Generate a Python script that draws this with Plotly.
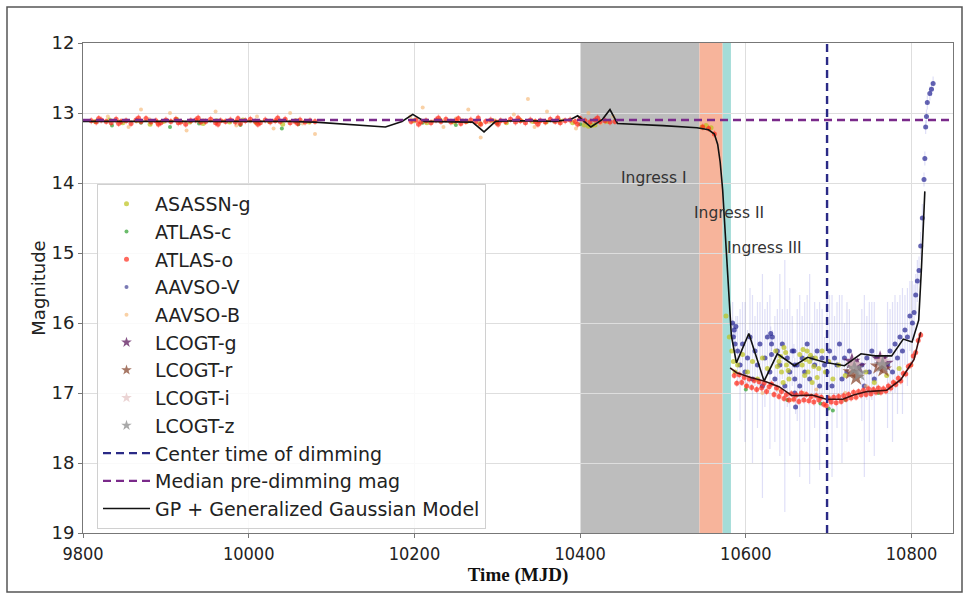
import plotly.graph_objects as go

# ---------------- data ----------------
X_TICKS = [9800, 10000, 10200, 10400, 10600, 10800]
Y_TICKS = [12, 13, 14, 15, 16, 17, 18, 19]

CENTER_TIME = 10698
MEDIAN_MAG = 13.1

INGRESS_NAMES = ["Ingress I", "Ingress II", "Ingress III"]
INGRESS_START = [10400, 10544, 10572]
INGRESS_END = [10544, 10572, 10582]
INGRESS_COLORS = ["#bdbdbd", "#f7b49b", "#a4dcd8"]
INGRESS_LABEL_T = [10489, 10580, 10622]
INGRESS_LABEL_M = [13.93, 14.43, 14.93]

ATLAS_O = [
    (9810, 13.11), (9816, 13.13), (9822, 13.10), (9828, 13.12), (9834, 13.14), (9840, 13.09),
    (9846, 13.12), (9852, 13.11), (9858, 13.15), (9864, 13.10), (9870, 13.12), (9876, 13.08),
    (9882, 13.13), (9888, 13.11), (9894, 13.14), (9900, 13.10), (9906, 13.12), (9912, 13.09),
    (9918, 13.13), (9924, 13.16), (9930, 13.11), (9936, 13.10), (9942, 13.13), (9948, 13.12),
    (9954, 13.09), (9960, 13.14), (9966, 13.11), (9972, 13.12), (9978, 13.10), (9984, 13.13),
    (9990, 13.15), (9996, 13.11), (10002, 13.09), (10008, 13.12), (10014, 13.14), (10020, 13.10),
    (10026, 13.13), (10032, 13.11), (10038, 13.12), (10044, 13.09), (10050, 13.14), (10056, 13.12),
    (10062, 13.10), (10068, 13.13), (10074, 13.11), (10080, 13.12),
    (9819, 13.08), (9843, 13.15), (9867, 13.07), (9891, 13.16), (9915, 13.14), (9939, 13.07),
    (9963, 13.16), (9987, 13.08), (10011, 13.16), (10035, 13.07), (10059, 13.15),
    (10196, 13.12), (10202, 13.10), (10208, 13.13), (10214, 13.11), (10220, 13.14), (10226, 13.10),
    (10232, 13.12), (10238, 13.09), (10244, 13.13), (10250, 13.11), (10256, 13.15), (10262, 13.12),
    (10268, 13.10), (10274, 13.13), (10280, 13.16), (10286, 13.12), (10292, 13.10), (10298, 13.13),
    (10304, 13.11), (10310, 13.12), (10316, 13.09), (10322, 13.13), (10328, 13.11), (10334, 13.14),
    (10340, 13.10), (10346, 13.12), (10352, 13.11), (10358, 13.13), (10364, 13.09), (10370, 13.12),
    (10376, 13.14), (10382, 13.11), (10388, 13.10), (10394, 13.12), (10400, 13.08), (10406, 13.11),
    (10412, 13.13), (10418, 13.10), (10424, 13.12), (10430, 13.11), (10436, 13.13), (10442, 13.12),
    (10205, 13.16), (10229, 13.07), (10253, 13.08), (10277, 13.07), (10301, 13.16), (10325, 13.07),
    (10349, 13.16), (10373, 13.07), (10397, 13.16), (10421, 13.07),
    (10548, 13.20), (10555, 13.22), (10562, 13.30),
    (10586, 16.75), (10589, 16.86), (10592, 16.74), (10595, 16.85), (10598, 16.78), (10601, 16.90),
    (10604, 16.80), (10607, 16.92), (10610, 16.82), (10613, 16.95), (10616, 16.84), (10619, 16.93),
    (10622, 16.86), (10625, 16.98), (10628, 16.91), (10631, 16.87), (10634, 17.02), (10637, 16.93),
    (10640, 17.05), (10643, 16.98), (10646, 17.08), (10649, 17.02), (10652, 17.10), (10655, 17.01),
    (10658, 17.09), (10661, 17.03), (10664, 17.12), (10667, 17.00), (10670, 17.10), (10673, 17.02),
    (10676, 17.11), (10679, 17.05), (10682, 17.13), (10685, 17.04), (10688, 17.10), (10691, 17.06),
    (10694, 17.16), (10697, 17.18), (10700, 17.08), (10703, 17.13), (10706, 17.06), (10709, 17.14),
    (10712, 17.05), (10715, 17.12), (10718, 17.04), (10721, 17.09), (10724, 17.02), (10727, 17.07),
    (10730, 16.99), (10733, 17.06), (10736, 16.98), (10739, 17.03), (10742, 16.96), (10745, 17.02),
    (10748, 16.94), (10751, 17.01), (10754, 16.95), (10757, 16.99), (10760, 16.93), (10763, 16.99),
    (10766, 16.94), (10769, 16.97), (10772, 16.90), (10775, 16.93), (10778, 16.85), (10781, 16.88),
    (10784, 16.79), (10787, 16.83), (10790, 16.72), (10793, 16.73), (10796, 16.62), (10799, 16.60),
    (10802, 16.47), (10805, 16.42), (10808, 16.25), (10811, 16.17),
]

ASASSN_G = [
    (9815, 13.12), (9832, 13.10), (9848, 13.14), (9865, 13.11), (9881, 13.16), (9897, 13.12),
    (9913, 13.09), (9929, 13.13), (9945, 13.15), (9961, 13.11), (9977, 13.13), (9993, 13.10),
    (10009, 13.14), (10025, 13.12), (10041, 13.16), (10057, 13.11), (10073, 13.13),
    (10199, 13.11), (10215, 13.14), (10231, 13.10), (10247, 13.13), (10263, 13.12), (10279, 13.15),
    (10295, 13.11), (10311, 13.14), (10327, 13.10), (10343, 13.12), (10359, 13.13), (10375, 13.11),
    (10391, 13.14), (10405, 13.17), (10410, 13.19), (10414, 13.18), (10418, 13.17), (10432, 13.12),
    (10547, 13.20), (10552, 13.18), (10558, 13.21),
    (10576, 15.90), (10580, 16.20), (10583, 16.40), (10585, 16.55), (10587, 16.70), (10590, 16.60),
    (10596, 16.45), (10602, 16.70), (10608, 16.55), (10614, 16.80), (10620, 16.50), (10626, 16.65),
    (10636, 16.40), (10640, 16.55), (10643, 16.70), (10646, 16.35), (10649, 16.60), (10652, 16.80),
    (10665, 16.45), (10668, 16.60), (10671, 16.75), (10674, 16.40), (10677, 16.55), (10680, 16.85),
    (10684, 16.50), (10688, 16.65), (10692, 16.40), (10696, 16.70), (10700, 16.55), (10705, 16.80),
    (10712, 16.60), (10720, 16.75), (10745, 16.70), (10755, 16.85), (10770, 16.75), (10785, 16.65),
    (10638, 16.62), (10642, 16.48), (10645, 16.85), (10648, 16.42), (10651, 16.68), (10669, 16.38),
    (10672, 16.52), (10675, 16.70), (10678, 16.46), (10682, 16.62), (10686, 16.78),
]

AAVSO_B = [
    (9830, 13.05), (9855, 13.20), (9870, 12.95), (9890, 13.15), (9905, 13.00), (9925, 13.25),
    (9945, 13.10), (9960, 12.98), (9985, 13.18), (10010, 13.05), (10030, 13.22), (10050, 13.00),
    (10065, 13.15), (10080, 13.30), (10195, 13.05), (10210, 12.92), (10235, 13.20), (10250, 13.08),
    (10265, 12.95), (10280, 13.35), (10300, 13.12), (10320, 13.02), (10337, 12.80), (10345, 13.20),
    (10360, 12.98), (10380, 13.10), (10395, 13.22), (10410, 13.00), (10425, 13.15), (10440, 13.05),
    (9840, 13.12), (9880, 13.09), (9920, 13.13), (9968, 13.11), (10002, 13.12), (10044, 13.10),
    (10222, 13.12), (10258, 13.10), (10290, 13.13), (10330, 13.11), (10368, 13.12), (10404, 13.10),
    (10600, 16.90), (10620, 17.00), (10640, 16.95), (10655, 17.10), (10670, 17.00), (10685, 16.95),
    (10700, 17.05), (10720, 17.00), (10745, 16.90), (10780, 16.85), (10800, 16.60),
]

ATLAS_C = [
    (9835, 13.18), (9870, 13.14), (9905, 13.20), (9940, 13.15), (9990, 13.17), (10040, 13.22),
    (10060, 13.16), (10210, 13.14), (10250, 13.17), (10300, 13.15), (10350, 13.12), (10400, 13.16),
    (10600, 16.95), (10650, 17.10), (10690, 17.15), (10700, 17.22), (10705, 17.25), (10720, 17.10),
    (10760, 17.00),
]

AAVSO_V = [  # (time, mag, error)
    (10584, 16.00, 0.3), (10585, 16.20, 0.2), (10586, 16.10, 0.1), (10587, 16.30, 0.2),
    (10588, 16.05, 0.15), (10590, 16.40, 0.5), (10593, 16.60, 0.8), (10596, 16.30, 0.6),
    (10599, 16.70, 1.0), (10602, 16.50, 0.4), (10605, 16.20, 0.7), (10608, 16.80, 1.2),
    (10611, 16.40, 0.5), (10614, 16.60, 0.9), (10617, 16.30, 0.6), (10620, 16.90, 1.6),
    (10623, 16.50, 0.7), (10626, 16.20, 0.5), (10629, 16.70, 1.1), (10630, 16.15, 0.1),
    (10631, 16.30, 0.1), (10631, 16.45, 0.1), (10632, 16.20, 0.1), (10635, 16.80, 0.9),
    (10638, 16.40, 0.6), (10641, 16.60, 1.3), (10644, 16.30, 0.5), (10647, 16.90, 1.8),
    (10650, 16.50, 0.7), (10653, 16.70, 1.2), (10656, 16.40, 0.5), (10658, 16.40, 0.1),
    (10659, 16.60, 0.1), (10659, 16.80, 0.1), (10659, 17.00, 0.1), (10660, 17.20, 0.1),
    (10662, 16.60, 0.8), (10665, 16.90, 1.3), (10668, 16.50, 0.6), (10671, 16.70, 1.0),
    (10674, 16.30, 0.7), (10677, 16.80, 1.5), (10680, 16.50, 0.5), (10683, 16.60, 0.9),
    (10686, 16.40, 0.6), (10689, 16.90, 1.2), (10692, 16.50, 0.7), (10695, 16.60, 0.4),
    (10698, 16.70, 1.1), (10701, 16.40, 0.8), (10704, 16.90, 1.3), (10707, 16.50, 0.6),
    (10710, 16.60, 0.9), (10713, 16.30, 0.7), (10716, 16.80, 1.2), (10719, 16.50, 0.5),
    (10722, 16.70, 1.0), (10725, 16.40, 0.6), (10740, 16.60, 0.8), (10743, 16.90, 1.3),
    (10746, 16.50, 0.6), (10749, 16.70, 1.0), (10752, 16.40, 0.7), (10755, 16.80, 1.1),
    (10758, 16.50, 0.5), (10771, 16.60, 0.9), (10774, 16.40, 0.6), (10777, 16.70, 1.0),
    (10780, 16.30, 0.7), (10783, 16.50, 0.8), (10786, 16.20, 0.6), (10789, 16.40, 0.9),
    (10792, 16.10, 0.5), (10795, 16.20, 0.7), (10798, 15.90, 0.5), (10801, 16.00, 0.6),
    (10803, 15.85, 0.4), (10805, 15.60, 0.3), (10807, 15.40, 0.3), (10809, 15.25, 0.2),
    (10811, 14.90, 0.2), (10813, 14.50, 0.2), (10815, 13.95, 0.1), (10816, 13.65, 0.1),
    (10817, 13.20, 0.1), (10818, 13.05, 0.1), (10819, 12.85, 0.1), (10822, 12.72, 0.1),
    (10824, 12.66, 0.1), (10826, 12.58, 0.1),
]

LCOGT_G = [(10728, 16.55), (10735, 16.62), (10762, 16.52), (10768, 16.58)]
LCOGT_R = [(10727, 16.70), (10733, 16.78), (10760, 16.62), (10766, 16.66)]
LCOGT_I = [(10730, 16.60), (10764, 16.55)]
LCOGT_Z = [(10731, 16.65), (10737, 16.72), (10765, 16.60)]

MODEL_UPPER_T = [9800, 9850, 9900, 9950, 10000, 10050, 10080, 10120, 10165, 10185, 10198, 10212,
                 10240, 10270, 10284, 10298, 10330, 10370, 10389, 10397, 10413, 10427, 10436,
                 10445, 10500, 10541, 10555, 10562, 10566, 10569, 10572, 10575, 10579, 10582.5,
                 10588.6, 10603.6, 10622, 10638, 10658.5, 10674.5, 10695, 10719, 10739, 10756,
                 10776, 10790, 10800.6, 10808.6, 10812, 10816]
MODEL_UPPER_M = [13.12, 13.12, 13.12, 13.11, 13.12, 13.12, 13.13, 13.16, 13.20, 13.12, 13.02, 13.12,
                 13.13, 13.13, 13.27, 13.12, 13.11, 13.12, 13.09, 13.04, 13.20, 13.09, 12.95,
                 13.15, 13.18, 13.21, 13.24, 13.30, 13.45, 13.70, 14.10, 14.67, 15.50, 16.18,
                 16.57, 16.15, 16.83, 16.44, 16.61, 16.49, 16.56, 16.61, 16.44, 16.47,
                 16.47, 16.23, 16.27, 15.96, 15.20, 14.12]
MODEL_LOWER_T = [10581, 10589, 10606, 10622, 10640, 10656, 10680, 10697, 10717, 10730, 10746,
                 10770, 10787, 10803, 10811]
MODEL_LOWER_M = [16.64, 16.71, 16.78, 16.83, 16.91, 17.04, 17.03, 17.09, 17.09, 17.03, 16.98,
                 16.96, 16.81, 16.52, 16.13]

X_RANGE = [9800, 10850]
Y_RANGE = [19, 12]

# ---------------- figure ----------------
fig = go.Figure()


def col(pairs, i):
    return [p[i] for p in pairs]


def add_points(name, pairs, color, size, symbol="circle", opacity=0.65, legend_size=None,
               err=None, err_color=None):
    kw = {}
    if err is not None:
        kw["error_y"] = dict(type="data", array=[err] * len(pairs), visible=True,
                             color=err_color, thickness=1.2, width=0)
    fig.add_trace(go.Scatter(
        x=col(pairs, 0), y=col(pairs, 1), mode="markers", name=name,
        legendgroup=name, showlegend=legend_size is None,
        marker=dict(color=color, size=size, symbol=symbol, opacity=opacity,
                    line=dict(width=0)), **kw,
    ))
    if legend_size is not None:
        fig.add_trace(go.Scatter(
            x=[None], y=[None], mode="markers", name=name, legendgroup=name,
            marker=dict(color=color, size=legend_size, symbol=symbol, opacity=opacity),
        ))


# AAVSO-V with faint error bars (drawn first, beneath the rest)
fig.add_trace(go.Scatter(
    x=col(AAVSO_V, 0), y=col(AAVSO_V, 1), mode="markers", name="AAVSO-V",
    legendgroup="AAVSO-V", showlegend=False,
    marker=dict(color="rgba(35,35,145,0.7)", size=5),
    error_y=dict(type="data", array=col(AAVSO_V, 2), visible=True,
                 color="rgba(110,110,220,0.22)", thickness=1.2, width=0),
))
fig.add_trace(go.Scatter(
    x=[None], y=[None], mode="markers", name="AAVSO-V", legendgroup="AAVSO-V",
    marker=dict(color="rgba(50,50,140,0.65)", size=4),
))

add_points("ATLAS-c", ATLAS_C, "#2ca02c", 4, opacity=0.7)
add_points("AAVSO-B", AAVSO_B, "#f5b26b", 4, opacity=0.6)
add_points("ASASSN-g", ASASSN_G, "#bcc21a", 5, opacity=0.7)
add_points("ATLAS-o", ATLAS_O, "#ff2a1a", 5, opacity=0.7, err=0.05,
           err_color="rgba(255,60,40,0.35)")

add_points("LCOGT-g", LCOGT_G, "#5e1a5e", 13, symbol="star", opacity=0.75, legend_size=8)
add_points("LCOGT-r", LCOGT_R, "#8a4a32", 13, symbol="star", opacity=0.75, legend_size=8)
add_points("LCOGT-i", LCOGT_I, "#e6c9c9", 13, symbol="star", opacity=0.8, legend_size=8)
add_points("LCOGT-z", LCOGT_Z, "#8c8c8c", 13, symbol="star", opacity=0.75, legend_size=8)

# model lines
fig.add_trace(go.Scatter(
    x=MODEL_UPPER_T, y=MODEL_UPPER_M, mode="lines", name="GP + Generalized Gaussian Model",
    legendgroup="model", line=dict(color="#111111", width=1.6),
))
fig.add_trace(go.Scatter(
    x=MODEL_LOWER_T, y=MODEL_LOWER_M, mode="lines", showlegend=False,
    legendgroup="model", line=dict(color="#3a1010", width=1.6),
))

# reference lines
fig.add_trace(go.Scatter(
    x=[CENTER_TIME, CENTER_TIME], y=[Y_RANGE[0], Y_RANGE[1]], mode="lines",
    name="Center time of dimming", legendgroup="center",
    line=dict(color="#2a2a86", width=2.4, dash="8px,5px"),
))
fig.add_trace(go.Scatter(
    x=X_RANGE, y=[MEDIAN_MAG, MEDIAN_MAG], mode="lines",
    name="Median pre-dimming mag", legendgroup="median",
    line=dict(color="#7a2a8a", width=2.4, dash="8px,5px"),
))

# legend ordering
order = ["ASASSN-g", "ATLAS-c", "ATLAS-o", "AAVSO-V", "AAVSO-B", "LCOGT-g", "LCOGT-r",
         "LCOGT-i", "LCOGT-z", "Center time of dimming", "Median pre-dimming mag",
         "GP + Generalized Gaussian Model"]
for tr in fig.data:
    if tr.name in order:
        tr.legendrank = order.index(tr.name) + 1

# shaded ingress regions
for s, e, c in zip(INGRESS_START, INGRESS_END, INGRESS_COLORS):
    fig.add_shape(type="rect", xref="x", yref="paper", x0=s, x1=e, y0=0, y1=1,
                  fillcolor=c, line=dict(width=0), layer="below")

for name, t, m in zip(INGRESS_NAMES, INGRESS_LABEL_T, INGRESS_LABEL_M):
    fig.add_annotation(x=t, y=m, text=name, showarrow=False,
                       font=dict(family="DejaVu Sans", size=15.5, color="#333333"))

# outer frame around the whole picture
L, R, T, B = 83, 953, 43, 533
W, H = 969, 601
fig.add_shape(type="rect", xref="paper", yref="paper",
              x0=(7 - L) / (R - L), x1=(962 - L) / (R - L),
              y0=(B - 592) / (B - T), y1=(B - 7) / (B - T),
              line=dict(color="#555555", width=1.5), fillcolor="rgba(0,0,0,0)", layer="above")

fig.update_layout(
    width=W, height=H,
    margin=dict(l=L, r=W - R, t=T, b=H - B),
    plot_bgcolor="white", paper_bgcolor="white",
    showlegend=True,
    legend=dict(
        x=(97 - L) / (R - L), y=(B - 184) / (B - T), xanchor="left", yanchor="top",
        font=dict(family="DejaVu Sans", size=19, color="#222222"),
        bgcolor="rgba(255,255,255,0.85)", bordercolor="#d0d0d0", borderwidth=1,
        traceorder="normal", itemwidth=47,
    ),
    xaxis=dict(
        range=X_RANGE, tickvals=X_TICKS, ticktext=[str(v) for v in X_TICKS],
        showgrid=True, gridcolor="#dedede", gridwidth=1,
        showline=True, linecolor="#777777", linewidth=1, mirror=True,
        ticks="outside", ticklen=4, tickcolor="#777777",
        tickfont=dict(family="DejaVu Sans Condensed", size=18, color="#222222"),
        title=dict(text="<b>Time (MJD)</b>", standoff=3,
                   font=dict(family="Liberation Serif", size=19, color="#111111")),
        zeroline=False,
    ),
    yaxis=dict(
        range=Y_RANGE, tickvals=Y_TICKS,
        showgrid=True, gridcolor="#dedede", gridwidth=1,
        showline=True, linecolor="#777777", linewidth=1, mirror=True,
        ticks="outside", ticklen=4, tickcolor="#777777",
        tickfont=dict(family="DejaVu Sans", size=18, color="#222222"),
        title=dict(text="Magnitude", standoff=1,
                   font=dict(family="DejaVu Sans", size=18, color="#222222")),
        zeroline=False,
    ),
)

fig.write_html("out.html", config={"displayModeBar": False},
               post_script="document.body.style.margin='0';")
